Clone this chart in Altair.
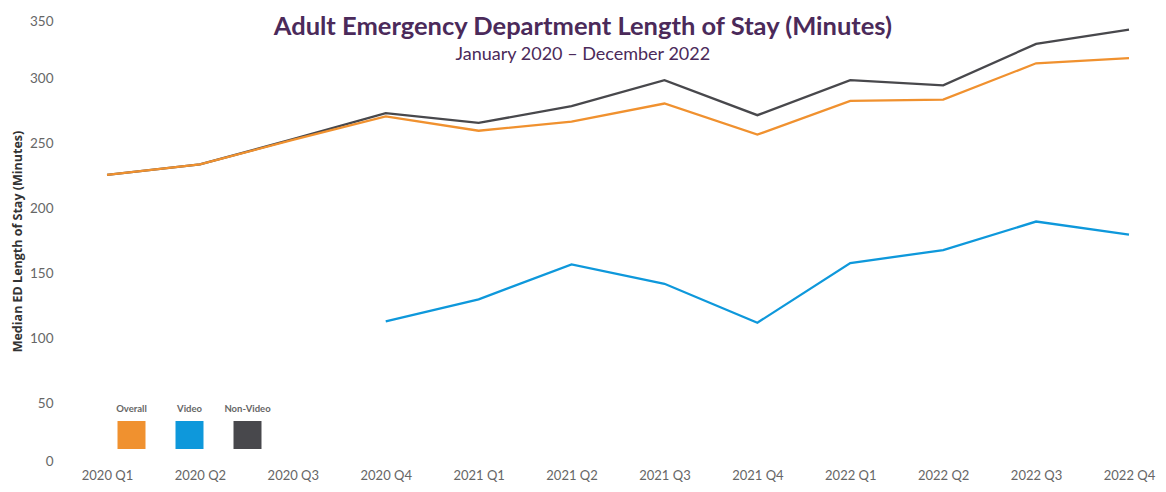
import altair as alt
import pandas as pd

quarters = ["2020 Q1", "2020 Q2", "2020 Q3", "2020 Q4",
            "2021 Q1", "2021 Q2", "2021 Q3", "2021 Q4",
            "2022 Q1", "2022 Q2", "2022 Q3", "2022 Q4"]
overall = [226, 234, 253, 271, 260, 267, 281, 257, 283, 284, 312, 316]
video = [None, None, None, 113, 130, 157, 142, 112, 158, 168, 190, 180]
non_video = [226, 234, 253.5, 273.5, 266, 279, 299, 272, 299, 295, 327, 338]

series_names = ["Overall", "Video", "Non-Video"]
series_colors = ["#F0912F", "#0E98DB", "#48484C"]
y_ticks = [0, 50, 100, 150, 200, 250, 300, 350]

rows = []
for name, vals in zip(series_names, [overall, video, non_video]):
    for q, v in zip(quarters, vals):
        rows.append({"quarter": q, "series": name, "minutes": v})
df = pd.DataFrame(rows)

W, H = 1022, 454
FONT = "Lato"

x_enc = alt.X(
    "quarter:O", sort=quarters,
    scale=alt.Scale(type="point", padding=0),
    axis=alt.Axis(title=None, labelAngle=0, domain=False, ticks=False, tickSize=0,
                  labelPadding=1, labelFont=FONT, labelFontSize=13, labelColor="#666666",
                  grid=False),
)
y_enc = alt.Y(
    "minutes:Q",
    scale=alt.Scale(domain=[0, 350], nice=False, zero=True),
    axis=alt.Axis(values=y_ticks, grid=False, domain=False, ticks=False, tickSize=0,
                  labelPadding=54, labelFlush=True, labelFont=FONT, labelFontSize=13.5,
                  labelColor="#666666",
                  title="Median ED Length of Stay (Minutes)", titleX=-90, titleY=H / 2,
                  titleAngle=270, titleBaseline="middle", titleAlign="center",
                  titleFont="Open Sans", titleFontWeight="bold", titleFontSize=12.5,
                  titleColor="#333333"),
)

draw_order = ["Non-Video", "Video", "Overall"]
layers = []
for name in draw_order:
    col = series_colors[series_names.index(name)]
    layers.append(
        alt.Chart(df).transform_filter(alt.datum.series == name)
        .mark_line(strokeWidth=2.3, color=col)
        .encode(x=x_enc, y=y_enc)
    )

# custom legend (label above a colour square)
leg_x0, leg_step, leg_sq_y, leg_txt_y = 24.5, 58, 421, 395
for i, (name, col) in enumerate(zip(series_names, series_colors)):
    one = pd.DataFrame({"series": [name]})
    layers.append(
        alt.Chart(one).mark_square(size=784, opacity=1, color=col)
        .encode(x=alt.value(leg_x0 + i * leg_step), y=alt.value(leg_sq_y))
    )
    layers.append(
        alt.Chart(one).mark_text(font=FONT, fontSize=9.5, fontWeight="bold", color="#666666",
                                 align="center", baseline="middle")
        .encode(text="series:N", x=alt.value(leg_x0 + i * leg_step), y=alt.value(leg_txt_y))
    )

chart = alt.layer(*layers).properties(
    width=W, height=H,
    background="white",
    title=alt.TitleParams(
        text="Adult Emergency Department Length of Stay (Minutes)",
        subtitle="January 2020 – December 2022",
        anchor="middle", frame="bounds", offset=-50,
        font=FONT, fontSize=25.5, fontWeight="bold", color="#4B2A5A",
        subtitleFont=FONT, subtitleFontSize=18, subtitleColor="#4B2A5A",
        subtitlePadding=6,
    ),
    autosize=alt.AutoSizeParams(type="none"),
    padding={"left": 99, "top": 6, "right": 29, "bottom": 16},
).configure_view(stroke=None)

chart.save("out.html", embed_options={"renderer": "svg", "actions": False})
